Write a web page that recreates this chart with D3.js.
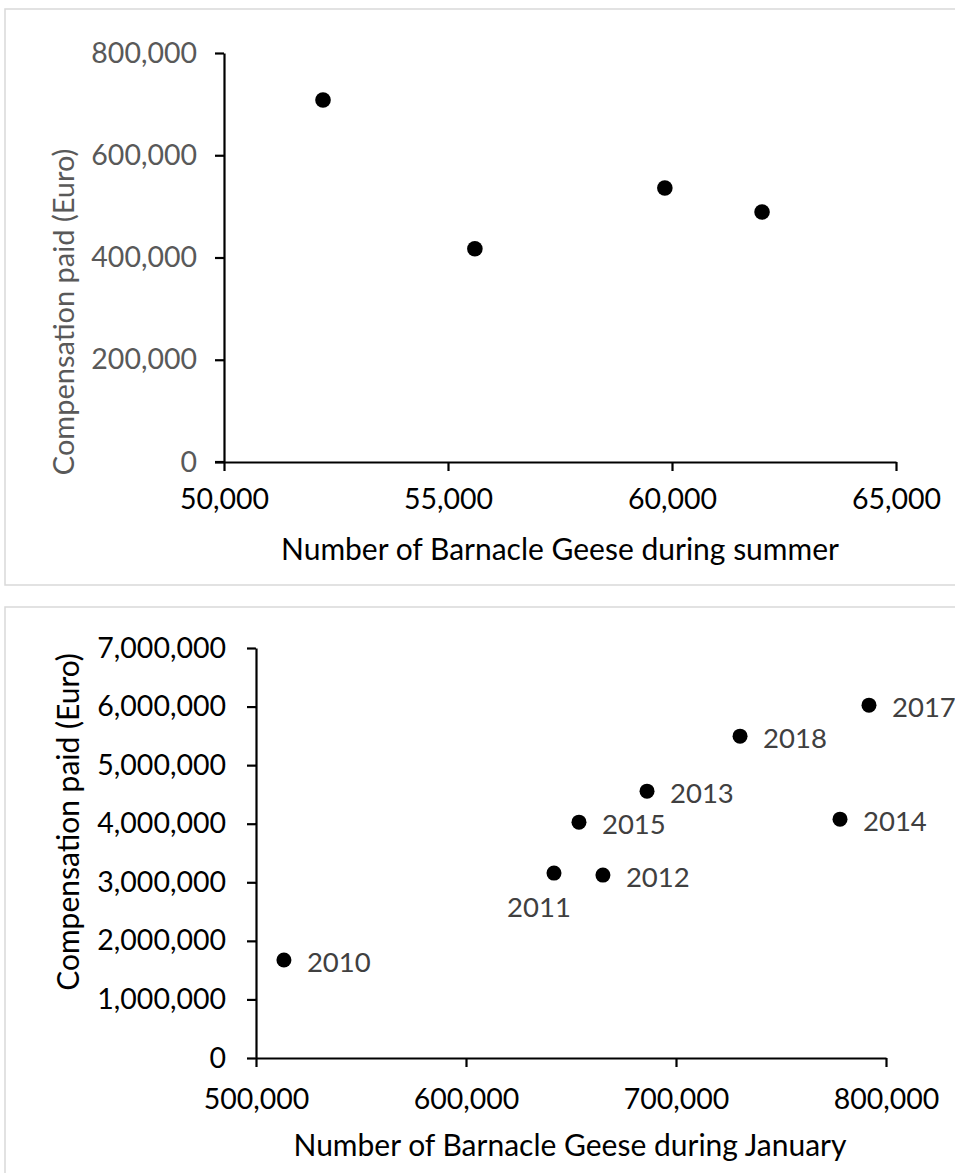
<!DOCTYPE html>
<html><head><meta charset="utf-8">
<script src="https://cdn.jsdelivr.net/npm/d3@7"></script>
<style>
html,body{margin:0;padding:0;background:#fff;}
svg text{font-family:Lato,"Open Sans",sans-serif;}
</style></head>
<body>
<svg id="chart" width="955" height="1173"></svg>
<script>
// ---- Data: top panel (summer counts) ----
const summerGeese = [52210, 55600, 59840, 62010];
const summerComp  = [708000, 417000, 536000, 489000];
const summerXTicks = [50000, 55000, 60000, 65000];
const summerYTicks = [0, 200000, 400000, 600000, 800000];

// ---- Data: bottom panel (January counts) ----
const years       = ["2010","2011","2012","2013","2014","2015","2017","2018"];
const januaryGeese = [513300, 641900, 665200, 686200, 778100, 653800, 791900, 730500];
const januaryComp  = [1672000, 3157000, 3123000, 4556000, 4078000, 4027000, 6024000, 5495000];
const januaryXTicks = [500000, 600000, 700000, 800000];
const januaryYTicks = [0,1000000,2000000,3000000,4000000,5000000,6000000,7000000];

const svg = d3.select("#chart");
const fmt = d3.format(",");

// panel frames
svg.append("rect").attr("x",5).attr("y",9).attr("width",980).attr("height",576)
  .attr("fill","none").attr("stroke","#d9d9d9").attr("stroke-width",1.5);
svg.append("rect").attr("x",5).attr("y",607).attr("width",980).attr("height",600)
  .attr("fill","none").attr("stroke","#d9d9d9").attr("stroke-width",1.5);

function styleAxis(g, color){
  g.selectAll("path.domain").attr("stroke","#000").attr("stroke-width",2.2);
  g.selectAll(".tick line").attr("stroke","#000").attr("stroke-width",2.2);
  g.selectAll(".tick text").attr("fill",color).attr("font-size",28.5)
    .style("font-family","Lato, 'Open Sans', sans-serif");
}

// ---------- Top panel ----------
{
  const x = d3.scaleLinear().domain([50000,65000]).range([224,896]);
  const y = d3.scaleLinear().domain([0,800000]).range([462,53]);

  const gy = svg.append("g").attr("transform","translate(224,0)")
    .call(d3.axisLeft(y).tickValues(summerYTicks).tickFormat(fmt).tickSize(9).tickSizeOuter(0).tickPadding(18));
  styleAxis(gy, "#595959");
  const gx = svg.append("g").attr("transform","translate(0,462)")
    .call(d3.axisBottom(x).tickValues(summerXTicks).tickFormat(fmt).tickSize(9).tickSizeOuter(0).tickPadding(18));
  styleAxis(gx, "#000");
  // 0-level tick extends left of y axis
  gx.append("line").attr("x1",215).attr("x2",224).attr("y1",0).attr("y2",0).attr("stroke","#000").attr("stroke-width",2.2);

  svg.append("g").selectAll("circle").data(summerGeese).join("circle")
    .attr("cx",(d)=>x(d)).attr("cy",(d,i)=>y(summerComp[i])).attr("r",7.8).attr("fill","#000");

  svg.append("text").attr("x",560).attr("y",560).attr("text-anchor","middle")
    .attr("font-size",30).attr("fill","#000").text("Number of Barnacle Geese during summer");
  svg.append("text").attr("transform","translate(62,312) rotate(-90)").attr("text-anchor","middle")
    .attr("dominant-baseline","central").attr("font-size",29).attr("fill","#595959").text("Compensation paid (Euro)");
}

// ---------- Bottom panel ----------
{
  const x = d3.scaleLinear().domain([500000,800000]).range([256,886]);
  const y = d3.scaleLinear().domain([0,7000000]).range([1058,648]);

  const gy = svg.append("g").attr("transform","translate(256,0)")
    .call(d3.axisLeft(y).tickValues(januaryYTicks).tickFormat(fmt).tickSize(9).tickSizeOuter(0).tickPadding(21));
  styleAxis(gy, "#000");
  const gx = svg.append("g").attr("transform","translate(0,1058)")
    .call(d3.axisBottom(x).tickValues(januaryXTicks).tickFormat(fmt).tickSize(9).tickSizeOuter(0).tickPadding(22));
  styleAxis(gx, "#000");

  const pts = years.map((yr,i)=>({yr, gx:januaryGeese[i], c:januaryComp[i]}));
  svg.append("g").selectAll("circle").data(pts).join("circle")
    .attr("cx",d=>x(d.gx)).attr("cy",d=>y(d.c)).attr("r",7.5).attr("fill","#000");

  svg.append("g").selectAll("text").data(pts).join("text")
    .attr("x",d=> d.yr==="2011" ? x(d.gx)-15 : x(d.gx)+23)
    .attr("y",d=> d.yr==="2011" ? y(d.c)+33 : y(d.c)+1)
    .attr("text-anchor",d=> d.yr==="2011" ? "middle" : "start")
    .attr("dominant-baseline","central")
    .attr("font-size",27.5).attr("fill","#404040").text(d=>d.yr);

  svg.append("text").attr("x",570).attr("y",1156).attr("text-anchor","middle")
    .attr("font-size",30).attr("fill","#000").text("Number of Barnacle Geese during January");
  svg.append("text").attr("transform","translate(67,822) rotate(-90)").attr("text-anchor","middle")
    .attr("dominant-baseline","central").attr("font-size",30).attr("fill","#000").text("Compensation paid (Euro)");
}
</script>
</body></html>
